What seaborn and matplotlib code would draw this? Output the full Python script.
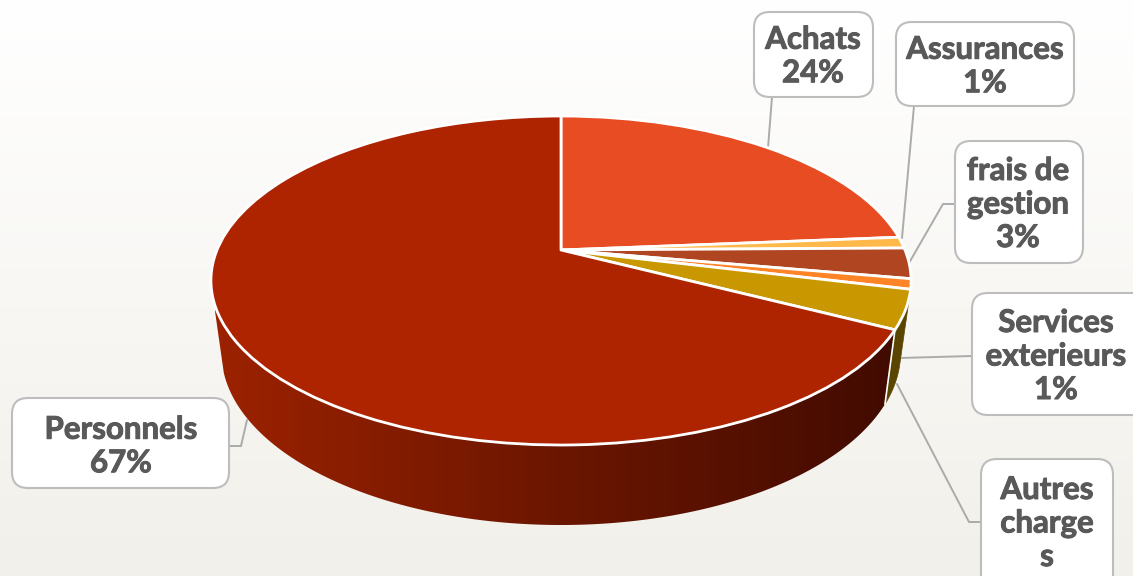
import numpy as np
import matplotlib
matplotlib.use("Agg")
import matplotlib.pyplot as plt
import matplotlib.patheffects as pe
from matplotlib.patches import FancyBboxPatch, Polygon
from matplotlib.transforms import Transform
import seaborn as sns

# --- data ---
categories = ["Achats", "Assurances", "frais de gestion", "Services exterieurs", "Autres charges", "Personnels"]
values = [23.7, 1.1, 3.0, 1.0, 3.8, 67.4]
slice_colors = ["#E84C22", "#FFB84A", "#B04521", "#FF8427", "#C99700", "#AE2300"]

sns.set_theme(style="white")
plt.rcParams["font.family"] = ["Lato", "DejaVu Sans"]

# --- layout (pixel space) ---
W, H = 1133, 576
CX, AY = 561, 250
A, a, c = 344.0, -112.5, 0.1854
DEPTH_SCALE = 0.97
TEXT = "#595959"
LINE = "#ABABAB"
BOX_EDGE = "#BDBDBD"


class Perspective(Transform):
    """Tilted view of the unit pie disc, in picture pixels."""
    input_dims = output_dims = 2
    is_separable = False
    has_inverse = False

    def transform_non_affine(self, xy):
        xy = np.asarray(xy, dtype=float)
        u, v = xy[:, 0], xy[:, 1]
        den = c * v + 1
        return np.column_stack([CX + A * u / den, (a * v + AY) / den])


persp = Perspective()


def top_points(t):
    return persp.transform_non_affine(np.column_stack([np.sin(t), np.cos(t)]))


def bottom_points(t):
    p = top_points(t)
    return np.column_stack([CX + DEPTH_SCALE * (p[:, 0] - CX),
                            p[:, 1] + 72 + 8 * (p[:, 1] - 280) / 165])


fig = plt.figure(figsize=(W / 100, H / 100), dpi=100)
ax = fig.add_axes([0, 0, 1, 1])

wedges, _ = ax.pie(values, colors=sns.color_palette(slice_colors), startangle=90,
                   counterclock=False, radius=1,
                   wedgeprops=dict(edgecolor="white", linewidth=2.0))
for w in wedges:
    w.set_transform(persp + ax.transData)
    w.set_zorder(5)
    w.set_joinstyle("round")

ax.set_aspect("auto")
ax.axis("off")

# background
grad = np.linspace(0, 1, 256)[:, None, None]
top, bot = np.array([1, 1, 1.0]), np.array([0xF2, 0xF0, 0xEA]) / 255
ax.imshow(top + grad * (bot - top), extent=(0, W, H, 0), aspect="auto", zorder=0)

# side wall
fracs = np.cumsum(values) / np.sum(values)
t_gold0 = 2 * np.pi * (fracs[3] + 0.004)
t_gold1 = 2 * np.pi * fracs[4]
t_end = 2 * np.pi * 0.702


def wall_outline(t0, t1):
    ts = np.linspace(t0, t1, 300)
    return np.vstack([top_points(ts), bottom_points(ts)[::-1]])


ramp = np.array(sns.blend_palette(["#9C2200", "#6C1600", "#420B00"], 512))[None, :, :3]
red_wall = Polygon(wall_outline(t_gold1, t_end), closed=True, fc="none", ec="none",
                   transform=ax.transData)
ax.add_patch(red_wall)
img = ax.imshow(ramp, extent=(215, 895, 530, 280), aspect="auto", zorder=3)
img.set_clip_path(red_wall)
ax.add_patch(Polygon(wall_outline(t_gold0, t_gold1), closed=True, fc="#5A4500",
                     ec="#5A4500", lw=0.5, zorder=3))
tb = np.array([t_gold1])
sep_t, sep_b = top_points(tb)[0], bottom_points(tb)[0]
ax.plot([sep_t[0], sep_b[0]], [sep_t[1], sep_b[1]], color="white", lw=1.2, zorder=4)

ax.set_xlim(0, W)
ax.set_ylim(H, 0)

# labels
labels = ["Achats\n24%", "Assurances\n1%", "frais de\ngestion\n3%",
          "Services\nexterieurs\n1%", "Autres\ncharge\ns", "Personnels\n67%"]
boxes = [(754, 12, 873, 97), (896, 22, 1074, 106), (955, 141, 1083, 263),
         (972, 293, 1150, 415), (981, 459, 1113, 600), (12, 398, 229, 488)]
centers = [(813, 56.5), (985, 66.5), (1018, 204.5), (1056, 356.5), (1047, 523.5), (121, 446.5)]
leaders = [[(772, 97), (768, 148)],
           [(914, 106), (902, 238)],
           [(955, 204), (943, 204), (909, 263)],
           [(972, 356), (900, 358)],
           [(981, 522), (969, 522), (897, 384)],
           [(229, 446), (241, 446), (247, 420)]]

for pts in leaders:
    xs, ys = zip(*pts)
    ax.plot(xs, ys, color=LINE, lw=1.4, zorder=2, solid_joinstyle="miter")

for (x0, y0, x1, y1), (tx, ty), lab in zip(boxes, centers, labels):
    r = 16
    ax.add_patch(FancyBboxPatch((x0 + r, y0 + r), x1 - x0 - 2 * r, y1 - y0 - 2 * r,
                                boxstyle=f"round,pad={r},rounding_size={r}",
                                fc="white", ec=BOX_EDGE, lw=1.5, zorder=6))
    ax.text(tx, ty, lab, ha="center", va="center", color=TEXT, fontsize=22.5,
            fontweight="bold", linespacing=1.24, zorder=7,
            path_effects=[pe.withStroke(linewidth=0.7, foreground=TEXT)])

fig.savefig("out.png", dpi=100)
